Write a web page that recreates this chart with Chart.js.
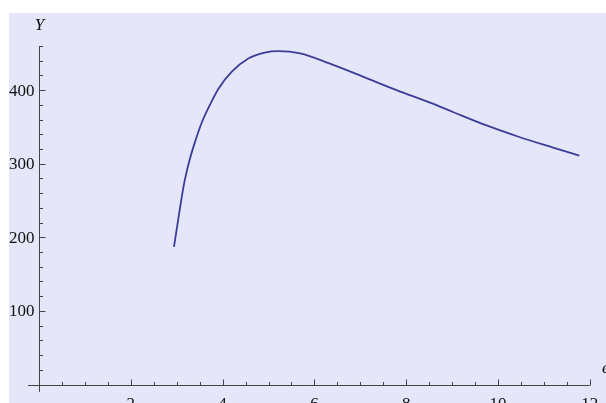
<!DOCTYPE html>
<html>
<head>
<meta charset="utf-8">
<script src="https://cdn.jsdelivr.net/npm/chart.js@4"></script>
<style>
  html, body { margin: 0; padding: 0; background: #fff; }
  canvas { display: block; }
</style>
</head>
<body>
<canvas id="c" width="606" height="403"></canvas>
<script>
// curve
var xs = [2.94, 3.03, 3.1, 3.17, 3.28, 3.39, 3.54, 3.74, 3.91, 4.2, 4.56, 4.92, 5.21, 5.69, 6.34, 7.07, 7.79, 8.52, 9.03, 9.75, 10.48, 11.2, 11.77];
var ys = [187, 223, 251, 276, 305, 328, 355, 382, 402, 425, 443, 451, 453, 450, 436, 418, 400, 383, 370, 352, 336, 322, 311];

var xTickLabels = [2, 4, 6, 8, 10, 12];
var yTickLabels = [100, 200, 300, 400];
var xMinorStep = 0.5;
var yMinorStep = 20;

var points = [];
for (var i = 0; i < xs.length; i++) points.push({x: xs[i], y: ys[i]});

var serif = '"Liberation Serif", "Times New Roman", serif';

// mathematica style axes crossing at the origin
var axesPlugin = {
  id: 'axes',
  beforeDraw: function(chart) {
    var ctx = chart.ctx, a = chart.chartArea;
    ctx.save();
    ctx.fillStyle = '#e6e6fa';
    ctx.fillRect(a.left, a.top, a.right - a.left, a.bottom - a.top);
    ctx.restore();
  },
  afterDatasetsDraw: function(chart) {
    var ctx = chart.ctx;
    var xs_ = chart.scales.x, ys_ = chart.scales.y;
    var x0 = Math.round(xs_.getPixelForValue(0)) + 0.5;
    var y0 = Math.round(ys_.getPixelForValue(0)) + 0.5;
    ctx.save();
    ctx.strokeStyle = '#444';
    ctx.lineWidth = 1;
    ctx.beginPath();
    ctx.moveTo(xs_.getPixelForValue(-0.24), y0);
    ctx.lineTo(xs_.getPixelForValue(12), y0);
    ctx.moveTo(x0, ys_.getPixelForValue(-10));
    ctx.lineTo(x0, ys_.getPixelForValue(460));
    // x ticks
    for (var v = xMinorStep; v <= 12.001; v += xMinorStep) {
      var px = Math.round(xs_.getPixelForValue(v)) + 0.5;
      var len = (Math.abs(v % 2) < 0.01) ? 6 : 3.5;
      ctx.moveTo(px, y0);
      ctx.lineTo(px, y0 - len);
    }
    // y ticks
    for (var w = yMinorStep; w <= 460.01; w += yMinorStep) {
      var py = Math.round(ys_.getPixelForValue(w)) + 0.5;
      var l2 = (w % 100 === 0) ? 6 : 3.5;
      ctx.moveTo(x0, py);
      ctx.lineTo(x0 + l2, py);
    }
    ctx.stroke();

    ctx.fillStyle = '#111';
    ctx.font = '17px ' + serif;
    ctx.textAlign = 'center';
    ctx.textBaseline = 'alphabetic';
    xTickLabels.forEach(function(t) {
      ctx.fillText(String(t), xs_.getPixelForValue(t), y0 + 23);
    });
    ctx.textAlign = 'right';
    ctx.textBaseline = 'middle';
    yTickLabels.forEach(function(t) {
      ctx.fillText(String(t), x0 - 5, ys_.getPixelForValue(t) + 1);
    });
    ctx.font = 'italic 17px ' + serif;
    ctx.textAlign = 'center';
    ctx.textBaseline = 'middle';
    ctx.fillText('Y', x0, 26);
    ctx.textAlign = 'left';
    ctx.textBaseline = 'alphabetic';
    ctx.fillText('e', 602, y0 - 13);
    ctx.restore();
  }
};

new Chart(document.getElementById('c'), {
  type: 'scatter',
  data: {
    datasets: [{
      data: points,
      showLine: true,
      borderColor: '#3d3d99',
      borderWidth: 1.8,
      pointRadius: 0,
      cubicInterpolationMode: 'monotone',
      fill: false
    }]
  },
  options: {
    responsive: false,
    animation: false,
    layout: { padding: { left: 9, top: 13, right: 0, bottom: 0 } },
    plugins: { legend: { display: false }, tooltip: { enabled: false } },
    scales: {
      x: { type: 'linear', min: -0.654, max: 12.353, display: false },
      y: { type: 'linear', min: -25.1, max: 504.8, display: false }
    }
  },
  plugins: [axesPlugin]
});
</script>
</body>
</html>
